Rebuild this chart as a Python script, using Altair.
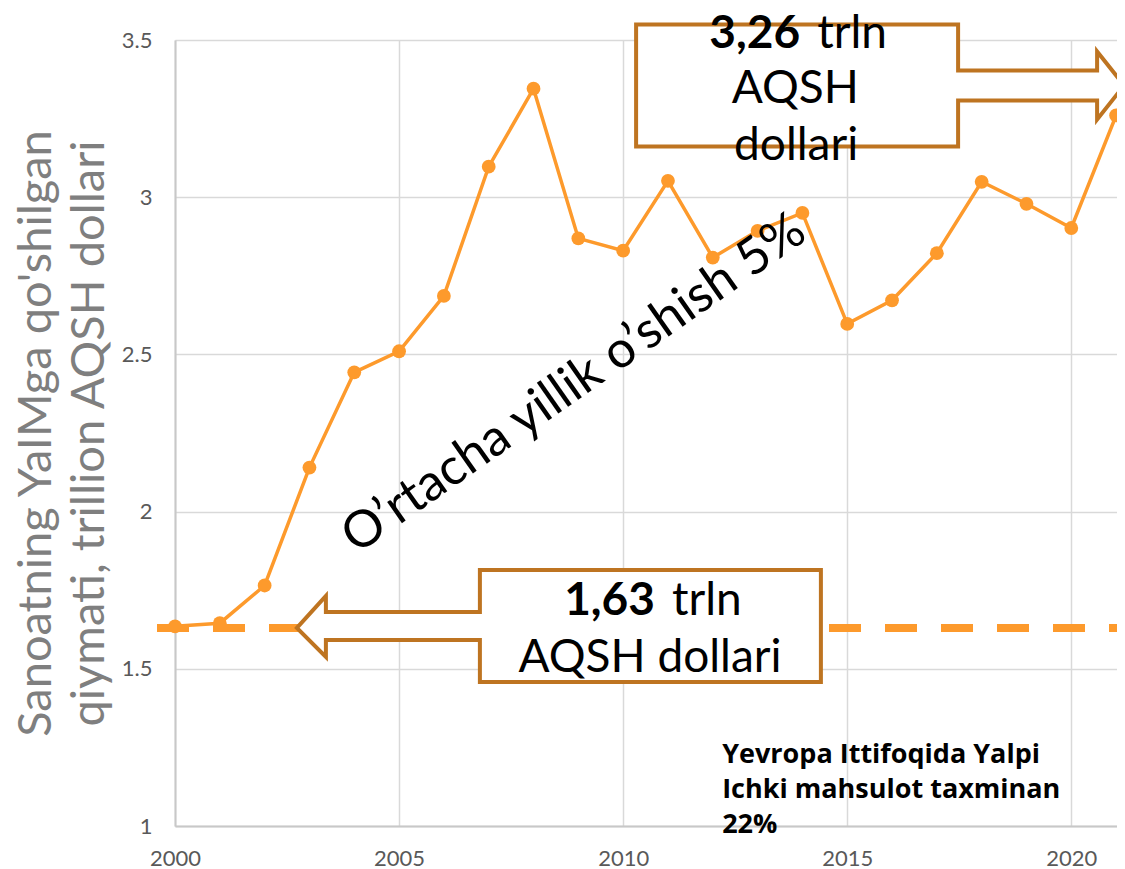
import altair as alt
import pandas as pd

# ---- data ----
years = list(range(2000, 2022))
values = [1.635, 1.645, 1.765, 2.14, 2.443, 2.51, 2.686, 3.097, 3.345, 2.869, 2.83,
          3.052, 2.808, 2.893, 2.95, 2.597, 2.672, 2.822, 3.049, 2.979, 2.902, 3.26]
baseline_value = 1.63
x_ticks = [2000, 2005, 2010, 2015, 2020]
y_ticks = [1, 1.5, 2, 2.5, 3, 3.5]

y_title = ["Sanoatning YaIMga qo'shilgan", "qiymati, trillion AQSH dollari"]
trend_text = "O\u2019rtacha yillik o\u2019shish 5%"
note_text = ["Yevropa Ittifoqida Yalpi", "Ichki mahsulot taxminan", "22%"]

# annotation anchors (data coordinates)
low_tip = (2002.72, 1.63)
low_bold = ("1,63", 2010.71, 1.671)
low_reg = ("trln", 2011.09, 1.671)
low_line2 = ("AQSH dollari", 2010.6, 1.49)
top_bold = ("3,26", 2013.95, 3.475)
top_reg = ("trln", 2014.33, 3.475)
top_line2 = ("AQSH", 2013.84, 3.30)
top_line3 = ("dollari", 2013.86, 3.118)
trend_pos = (2009.1, 2.366)
note_pos = (2012.21, 1.20)

FONT = "Lato"
LINE_COLOR = "#FD9A2C"
BOX_COLOR = "#BE7421"

df = pd.DataFrame({"year": years, "value": values})

xscale = alt.Scale(domain=[2000, 2021.02], nice=False, zero=False)
yscale = alt.Scale(domain=[1, 3.5], nice=False, zero=False)

X = alt.X("year:Q", scale=xscale,
          axis=alt.Axis(values=x_ticks, format="d", title=None, ticks=False,
                        labelPadding=22, labelFontSize=22, labelColor="#595959",
                        labelFont=FONT, labelFlush=False, domainColor="#c8c8c8", domainWidth=2,
                        gridColor="#d9d9d9", gridWidth=1.5))
Y = alt.Y("value:Q", scale=yscale,
          axis=alt.Axis(values=y_ticks, format="~g", title=y_title, ticks=False,
                        labelPadding=23, labelFontSize=22, labelColor="#595959",
                        labelFont=FONT, labelFlush=False, domainColor="#c8c8c8", domainWidth=2,
                        gridColor="#d9d9d9", gridWidth=1.5,
                        titleFont=FONT, titleFontSize=47, titleFontWeight="normal",
                        titleColor="#7f7f7f", titleAngle=270, titleAlign="center",
                        titleBaseline="alphabetic", titleX=-125, titleY=393,
                        titleLineHeight=53))

line = alt.Chart(df).mark_line(color=LINE_COLOR, strokeWidth=3.5).encode(x=X, y=Y)
pts = alt.Chart(df).mark_circle(color=LINE_COLOR, size=190, opacity=1).encode(x="year:Q", y="value:Q")

base_df = pd.DataFrame({"value": [baseline_value]})
dashed = alt.Chart(base_df).mark_rule(color=LINE_COLOR, strokeWidth=8, strokeDash=[32, 24]).encode(
    x=alt.value(-18), x2=alt.value(942), y="value:Q")

# callout shapes (custom symbol paths, 1 unit = 1 px with size=4)
low_path = "M0,0 L29,-32 L29,-16 L183,-16 L183,-58 L524,-58 L524,54 L183,54 L183,12 L29,12 L29,29 Z"
top_path = "M8,-30 L-19,4 L-19,-15 L-158,-15 L-158,31 L-480,31 L-480,-91 L-158,-91 L-158,-45 L-19,-45 L-19,-64 Z"

low_df = pd.DataFrame({"year": [low_tip[0]], "value": [low_tip[1]]})
top_df = pd.DataFrame({"year": [years[-1]], "value": [values[-1]]})

def callout(d, path):
    return alt.Chart(d).mark_point(shape=path, size=4, filled=True, color="white",
                                   stroke=BOX_COLOR, strokeWidth=4, strokeJoin="miter",
                                   opacity=1, fillOpacity=1, strokeOpacity=1).encode(
        x="year:Q", y="value:Q")

low_box = callout(low_df, low_path)
top_box = callout(top_df, top_path)

def txt(items, **kw):
    d = pd.DataFrame({"t": [i[0] for i in items], "year": [i[1] for i in items],
                      "value": [i[2] for i in items]})
    return alt.Chart(d).mark_text(font=FONT, color="black", **kw).encode(
        x="year:Q", y="value:Q", text="t:N")

bold_t = txt([low_bold, top_bold], fontSize=46, fontWeight="bold", align="right", baseline="alphabetic")
reg_t = txt([low_reg, top_reg], fontSize=46, align="left", baseline="alphabetic")
ctr_t = txt([low_line2, top_line2, top_line3], fontSize=46, align="center", baseline="alphabetic")

trend_df = pd.DataFrame({"t": [trend_text], "year": [trend_pos[0]], "value": [trend_pos[1]]})
trend = alt.Chart(trend_df).mark_text(font=FONT, fontSize=51, color="black", angle=325,
                                      align="center", baseline="alphabetic").encode(
    x="year:Q", y="value:Q", text="t:N")

note_df = pd.DataFrame({"year": [note_pos[0]], "value": [note_pos[1]]})
note = alt.Chart(note_df).mark_text(font="Open Sans", fontSize=27, fontWeight="bold", color="black",
                                    align="left", baseline="alphabetic", lineHeight=35,
                                    text=note_text).encode(x="year:Q", y="value:Q")

chart = alt.layer(line, pts, dashed, low_box, top_box, bold_t, reg_t, ctr_t, trend, note).properties(
    width=942, height=786,
    autosize=alt.AutoSizeParams(type="none"),
    padding={"left": 167, "top": 32, "right": 0, "bottom": 44},
).configure_view(stroke=None)

chart.save("out.html", embed_options={"renderer": "svg", "actions": False})
